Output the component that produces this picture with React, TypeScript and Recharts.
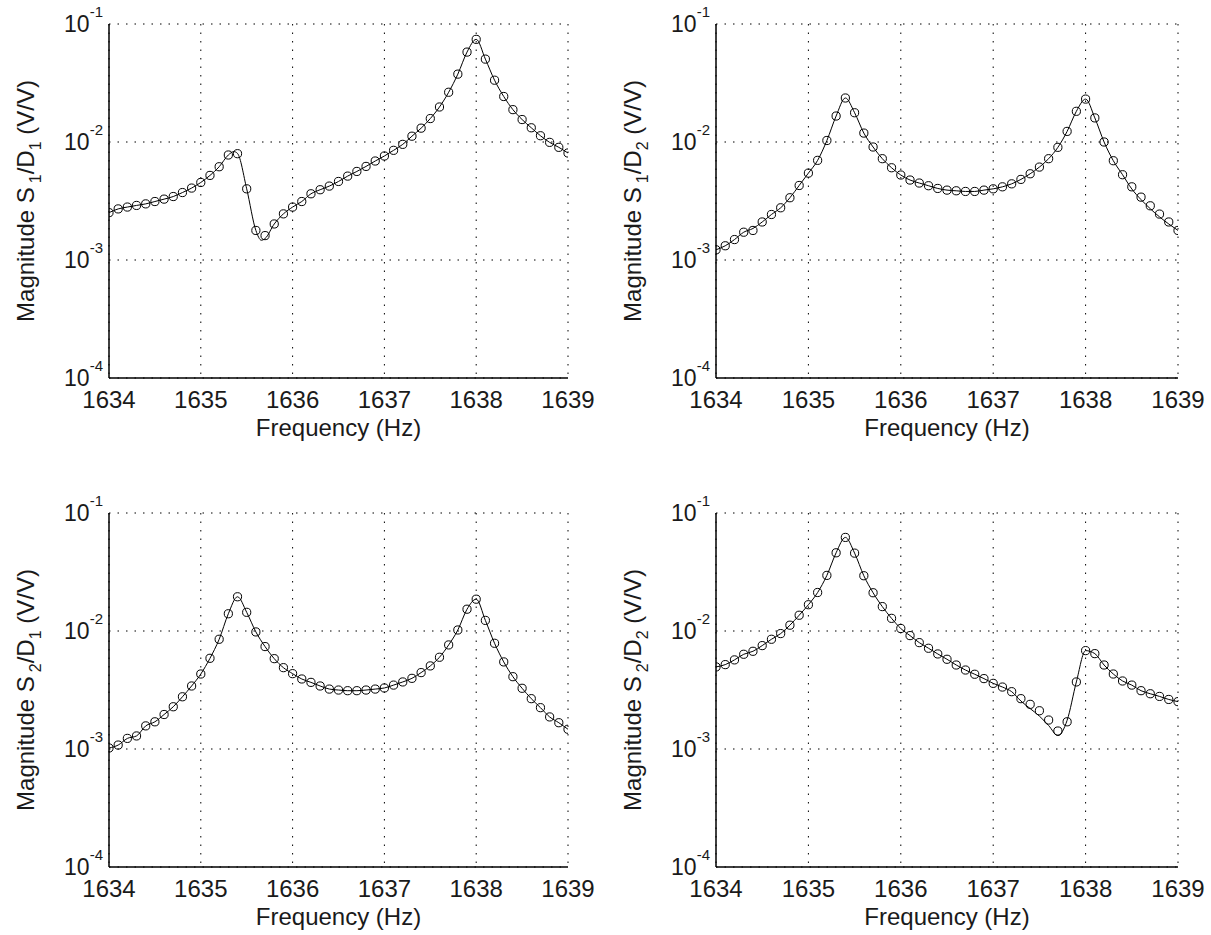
import { ComposedChart, Line, XAxis, YAxis, CartesianGrid } from 'recharts';

const FONT = '"Liberation Sans", Arial, Helvetica, sans-serif';

// frequency grid of the measured points (Hz)
const freq = [
  1634.0, 1634.1, 1634.2, 1634.3, 1634.4, 1634.5, 1634.6, 1634.7, 1634.8, 1634.9,
  1635.0, 1635.1, 1635.2, 1635.3, 1635.4, 1635.5, 1635.6, 1635.7, 1635.8, 1635.9,
  1636.0, 1636.1, 1636.2, 1636.3, 1636.4, 1636.5, 1636.6, 1636.7, 1636.8, 1636.9,
  1637.0, 1637.1, 1637.2, 1637.3, 1637.4, 1637.5, 1637.6, 1637.7, 1637.8, 1637.9,
  1638.0, 1638.1, 1638.2, 1638.3, 1638.4, 1638.5, 1638.6, 1638.7, 1638.8, 1638.9,
  1639.0,
];

const xTicks = [1634, 1635, 1636, 1637, 1638, 1639];
const yTicks = [1e-4, 1e-3, 1e-2, 1e-1];
const yMinorTicks = [
  2e-4, 3e-4, 4e-4, 5e-4, 6e-4, 7e-4, 8e-4, 9e-4,
  2e-3, 3e-3, 4e-3, 5e-3, 6e-3, 7e-3, 8e-3, 9e-3,
  2e-2, 3e-2, 4e-2, 5e-2, 6e-2, 7e-2, 8e-2, 9e-2,
];

// measured magnitudes (circles)
const s1d1 = [
  2.52e-3, 2.71e-3, 2.81e-3, 2.9e-3, 2.99e-3, 3.13e-3, 3.28e-3, 3.45e-3, 3.73e-3, 4.07e-3,
  4.54e-3, 5.21e-3, 6.17e-3, 7.76e-3, 7.96e-3, 4.01e-3, 1.78e-3, 1.61e-3, 2.02e-3, 2.46e-3,
  2.81e-3, 3.13e-3, 3.64e-3, 3.94e-3, 4.23e-3, 4.63e-3, 5.14e-3, 5.63e-3, 6.21e-3, 6.9e-3,
  7.61e-3, 8.5e-3, 9.55e-3, 1.12e-2, 1.31e-2, 1.58e-2, 1.98e-2, 2.64e-2, 3.76e-2, 5.78e-2,
  7.41e-2, 5.04e-2, 3.34e-2, 2.43e-2, 1.88e-2, 1.55e-2, 1.32e-2, 1.13e-2, 9.93e-3, 9.01e-3,
  8.07e-3,
];
const s1d2 = [
  1.22e-3, 1.32e-3, 1.49e-3, 1.72e-3, 1.78e-3, 2.1e-3, 2.43e-3, 2.77e-3, 3.37e-3, 4.28e-3,
  5.45e-3, 6.99e-3, 1.03e-2, 1.66e-2, 2.36e-2, 1.77e-2, 1.19e-2, 9.07e-3, 7.22e-3, 6.05e-3,
  5.25e-3, 4.76e-3, 4.49e-3, 4.26e-3, 4.04e-3, 3.91e-3, 3.86e-3, 3.81e-3, 3.81e-3, 3.91e-3,
  4.01e-3, 4.17e-3, 4.42e-3, 4.82e-3, 5.38e-3, 6.13e-3, 7.22e-3, 9.01e-3, 1.23e-2, 1.82e-2,
  2.31e-2, 1.6e-2, 1.0e-2, 6.94e-3, 5.28e-3, 4.17e-3, 3.41e-3, 2.88e-3, 2.45e-3, 2.1e-3,
  1.78e-3,
];
const s2d1 = [
  1.02e-3, 1.08e-3, 1.23e-3, 1.29e-3, 1.57e-3, 1.7e-3, 1.96e-3, 2.28e-3, 2.77e-3, 3.42e-3,
  4.32e-3, 5.87e-3, 8.51e-3, 1.4e-2, 1.95e-2, 1.44e-2, 9.82e-3, 7.38e-3, 5.83e-3, 4.89e-3,
  4.35e-3, 3.92e-3, 3.67e-3, 3.42e-3, 3.22e-3, 3.16e-3, 3.12e-3, 3.12e-3, 3.16e-3, 3.22e-3,
  3.29e-3, 3.48e-3, 3.7e-3, 3.97e-3, 4.44e-3, 5.06e-3, 5.99e-3, 7.62e-3, 1.02e-2, 1.53e-2,
  1.86e-2, 1.23e-2, 7.87e-3, 5.47e-3, 4.1e-3, 3.27e-3, 2.67e-3, 2.24e-3, 1.87e-3, 1.67e-3,
  1.47e-3,
];
const s2d2 = [
  4.96e-3, 5.19e-3, 5.69e-3, 6.35e-3, 6.73e-3, 7.52e-3, 8.51e-3, 9.51e-3, 1.12e-2, 1.36e-2,
  1.67e-2, 2.12e-2, 2.96e-2, 4.6e-2, 6.21e-2, 4.57e-2, 2.94e-2, 2.11e-2, 1.61e-2, 1.28e-2,
  1.05e-2, 9.14e-3, 7.97e-3, 7.14e-3, 6.39e-3, 5.76e-3, 5.15e-3, 4.67e-3, 4.3e-3, 3.95e-3,
  3.6e-3, 3.35e-3, 3.06e-3, 2.67e-3, 2.39e-3, 2.11e-3, 1.76e-3, 1.42e-3, 1.7e-3, 3.7e-3,
  6.82e-3, 6.43e-3, 5.15e-3, 4.32e-3, 3.77e-3, 3.48e-3, 3.12e-3, 2.94e-3, 2.79e-3, 2.63e-3,
  2.52e-3,
];

// where the fitted curve leaves the measured points: [freq, value]
const s1d1Fit: [number, number][] = [
  [1635.36, 8.3e-3], [1635.4, 8.0e-3], [1635.66, 1.47e-3], [1635.7, 1.52e-3],
];
const s1d2Fit: [number, number][] = [
  [1634.4, 1.85e-3], [1638.5, 4.0e-3], [1638.6, 3.25e-3], [1638.7, 2.72e-3], [1638.8, 2.32e-3],
  [1638.9, 2.02e-3],
];
const s2d1Fit: [number, number][] = [];
const s2d2Fit: [number, number][] = [
  [1637.3, 2.55e-3], [1637.4, 2.2e-3], [1637.5, 1.9e-3], [1637.6, 1.58e-3], [1637.7, 1.3e-3],
  [1637.8, 1.75e-3],
];

const buildRows = (meas: number[], fitPts: [number, number][]) => {
  const rows: { f: number; meas: number | null; fit: number }[] = freq.map((f, i) => ({
    f,
    meas: meas[i],
    fit: meas[i],
  }));
  fitPts.forEach(([f, v]) => {
    const row = rows.find((r) => Math.abs(r.f - f) < 1e-6);
    if (row) row.fit = v;
    else rows.push({ f, meas: null, fit: v });
  });
  return rows.sort((a, b) => a.f - b.f);
};

const PLOT_TOP = 24;
const PLOT_H = 354;

const XTick = (props: any) => {
  const { x, y, payload } = props;
  return (
    <text x={x} y={y + 30} textAnchor="middle" fontSize={24} fontFamily={FONT} fill="#1a1a1a">
      {payload.value}
    </text>
  );
};

const YTick = (props: any) => {
  const { x, y, payload } = props;
  const exp = Math.round(Math.log10(payload.value));
  return (
    <text x={x} y={y + 8} textAnchor="end" fontSize={23} fontFamily={FONT} fill="#1a1a1a">
      10
      <tspan dy={-15} fontSize={15}>
        {exp}
      </tspan>
    </text>
  );
};

const NoTick = () => <g />;

const XLabel = ({ cx, cy }: any) => (
  <text x={cx} y={cy} textAnchor="middle" fontSize={24} fontFamily={FONT} fill="#1a1a1a">
    Frequency (Hz)
  </text>
);

const YLabel = ({ cx, cy, num, den }: any) => (
  <text
    x={cx}
    y={cy}
    transform={`rotate(-90 ${cx} ${cy})`}
    textAnchor="middle"
    fontSize={24}
    fontFamily={FONT}
    fill="#1a1a1a"
  >
    Magnitude S
    <tspan dx={4} dy={7} fontSize={16}>
      {num}
    </tspan>
    <tspan dy={-7}>/D</tspan>
    <tspan dy={7} fontSize={16}>
      {den}
    </tspan>
    <tspan dy={-7}>{' (V/V)'}</tspan>
  </text>
);

type PanelProps = {
  left: number;
  top: number;
  width: number;
  height: number;
  axisW: number;
  right: number;
  num: string;
  den: string;
  meas: number[];
  fit: [number, number][];
};

const Panel = ({ left, top, width, height, axisW, right, num, den, meas, fit }: PanelProps) => {
  const rows = buildRows(meas, fit);
  const xAxisH = height - PLOT_TOP - PLOT_H;
  const plotW = width - axisW - right;
  const boxLine = { stroke: '#000', strokeWidth: 1.5 };
  const xc = {
    type: 'number' as const,
    dataKey: 'f',
    domain: [1634, 1639],
    allowDataOverflow: true,
    ticks: xTicks,
    interval: 0 as const,
  };
  const yc = {
    type: 'number' as const,
    scale: 'log' as const,
    domain: [1e-4, 1e-1],
    allowDataOverflow: true,
    interval: 0 as const,
  };
  return (
    <div style={{ position: 'absolute', left, top }}>
      <ComposedChart
        width={width}
        height={height}
        data={rows}
        margin={{ top: PLOT_TOP, right, bottom: 0, left: 0 }}
      >
        <CartesianGrid stroke="#000" strokeWidth={1} strokeDasharray="1.5 7" />
        <XAxis
          {...xc}
          height={xAxisH}
          tickLine={false}
          tickSize={0}
          tickMargin={0}
          axisLine={boxLine}
          tick={<XTick />}
          label={<XLabel cx={axisW + plotW / 2} cy={PLOT_TOP + PLOT_H + 58} />}
        />
        <XAxis {...xc} xAxisId="bt" orientation="bottom" mirror height={0} axisLine={false} tickSize={5} tickLine={{ stroke: '#000' }} tick={NoTick} />
        <XAxis {...xc} xAxisId="tp" orientation="top" mirror height={0} axisLine={boxLine} tickSize={5} tickLine={{ stroke: '#000' }} tick={NoTick} />
        <YAxis
          {...yc}
          width={axisW}
          ticks={yTicks}
          tickLine={false}
          tickSize={0}
          tickMargin={6}
          axisLine={boxLine}
          tick={<YTick />}
          label={<YLabel cx={axisW - 75} cy={PLOT_TOP + PLOT_H / 2} num={num} den={den} />}
        />
        <YAxis {...yc} yAxisId="lmaj" mirror width={0} ticks={yTicks} axisLine={false} tickSize={6} tickLine={{ stroke: '#000' }} tick={NoTick} />
        <YAxis {...yc} yAxisId="lmin" mirror width={0} ticks={yMinorTicks} axisLine={false} tickSize={3.5} tickLine={{ stroke: '#000' }} tick={NoTick} />
        <YAxis {...yc} yAxisId="rmaj" orientation="right" mirror width={0} ticks={yTicks} axisLine={boxLine} tickSize={6} tickLine={{ stroke: '#000' }} tick={NoTick} />
        <YAxis {...yc} yAxisId="rmin" orientation="right" mirror width={0} ticks={yMinorTicks} axisLine={false} tickSize={3.5} tickLine={{ stroke: '#000' }} tick={NoTick} />
        <Line
          dataKey="fit"
          type="monotone"
          stroke="#000"
          strokeWidth={1}
          dot={false}
          activeDot={false}
          connectNulls
          isAnimationActive={false}
        />
        <Line
          dataKey="meas"
          stroke="none"
          strokeWidth={0}
          dot={{ r: 4.1, stroke: '#000', strokeWidth: 1, fill: 'none' }}
          activeDot={false}
          isAnimationActive={false}
        />
      </ComposedChart>
    </div>
  );
}

export default function App() {
  return (
    <div
      style={{
        position: 'absolute',
        left: 0,
        top: 0,
        width: 1211,
        height: 935,
        overflow: 'hidden',
        background: '#fff',
      }}
    >
      <Panel left={0} top={0} width={600} height={470} axisW={109} right={32} num="1" den="1" meas={s1d1} fit={s1d1Fit} />
      <Panel left={605} top={0} width={606} height={470} axisW={111} right={33} num="1" den="2" meas={s1d2} fit={s1d2Fit} />
      <Panel left={0} top={489} width={600} height={446} axisW={109} right={32} num="2" den="1" meas={s2d1} fit={s2d1Fit} />
      <Panel left={605} top={489} width={606} height={446} axisW={111} right={33} num="2" den="2" meas={s2d2} fit={s2d2Fit} />
    </div>
  );
}
